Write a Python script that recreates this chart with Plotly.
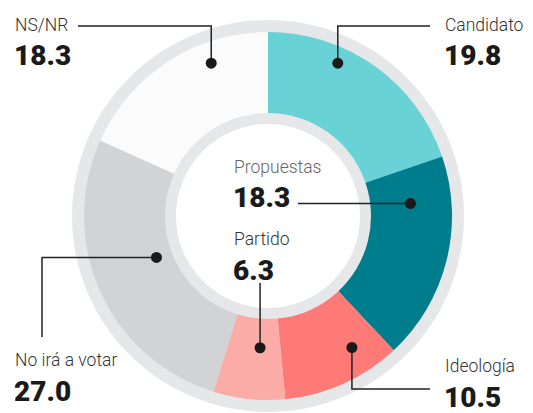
import plotly.graph_objects as go
import math

# ---- data ----
categories = ["Candidato", "Propuestas", "Ideología", "Partido", "No irá a votar", "NS/NR"]
values = [19.8, 18.3, 10.5, 6.3, 27.0, 18.3]
value_labels = ["19.8", "18.3", "10.5", "6.3", "27.0", "18.3"]

# ---- style ----
colors = ["#69d2d7", "#007d8d", "#fd7a77", "#fbaca6", "#d2d3d5", "#fbfbfb"]
W, H = 533, 413
CX, CY = 268, 216          # pie centre in pixels
R_OUT_RING = 196           # outer grey rim
R_SLICES = 184             # coloured ring outer radius
R_SLICE_IN = 103           # coloured ring inner radius
R_WHITE = 92               # white centre

def px(x):
    return x / W

def py(y):
    return 1 - y / H

def domain(r):
    return dict(x=[px(CX - r), px(CX + r)], y=[py(CY + r), py(CY - r)])

fig = go.Figure()
fig.add_trace(go.Pie(values=[1], marker=dict(colors=["#e6e7e9"], line=dict(width=0)),
                     domain=domain(R_OUT_RING), textinfo="none", hoverinfo="skip",
                     showlegend=False, sort=False))
fig.add_trace(go.Pie(labels=categories, values=values, sort=False, direction="clockwise",
                     rotation=0, hole=R_SLICE_IN / R_SLICES,
                     marker=dict(colors=colors, line=dict(width=0)),
                     domain=domain(R_SLICES), textinfo="none", hoverinfo="skip",
                     showlegend=False))
fig.add_trace(go.Pie(values=[1], marker=dict(colors=["#ffffff"], line=dict(width=0)),
                     domain=domain(R_WHITE), textinfo="none", hoverinfo="skip",
                     showlegend=False, sort=False))

# ---- callouts: dot placed inside each slice (fraction of slice, radius) ----
dot_frac = [0.345, 0.21, 0.28, 0.39, 0.54, 0.69]
dot_rad = [168, 143, 156, 132, 119, 163]
total = sum(values)
cum = 0
dots = []
for v, f, r in zip(values, dot_frac, dot_rad):
    ang = (cum + f * v) / total * 2 * math.pi
    dots.append((CX + r * math.sin(ang), CY - r * math.cos(ang)))
    cum += v

label_pos = [(443, 25, 55), (232, 167, 197), (443, 366, 397), (232, 239, 270), (13, 360, 391), (13, 25, 55)]
label_colors = ["#333333", "#666666", "#333333", "#333333", "#333333", "#333333"]

shapes = []
annotations = []
line_style = dict(color="#222222", width=1.5)

def path(points):
    d = "M " + " L ".join(f"{px(x)},{py(y)}" for x, y in points)
    return dict(type="path", xref="paper", yref="paper", path=d, line=line_style)

dx, dy = dots[0]
shapes.append(path([(430, 26), (dx, 26), (dx, dy)]))
dx, dy = dots[1]
shapes.append(path([(298, dy), (dx, dy)]))
dx, dy = dots[2]
shapes.append(path([(dx, dy), (dx, 389), (430, 389)]))
dx, dy = dots[3]
shapes.append(path([(dx, 283), (dx, dy)]))
dx, dy = dots[4]
shapes.append(path([(42, 337), (42, dy), (dx, dy)]))
dx, dy = dots[5]
shapes.append(path([(78, 26), (dx, 26), (dx, dy)]))

for dx, dy in dots:
    r = 5.5
    shapes.append(dict(type="circle", xref="paper", yref="paper",
                       x0=px(dx - r), x1=px(dx + r), y0=py(dy + r), y1=py(dy - r),
                       fillcolor="#1a1a1a", line=dict(width=0)))

for cat, val, (lx, ly, vy), lc in zip(categories, value_labels, label_pos, label_colors):
    annotations.append(dict(x=px(lx), y=py(ly), xref="paper", yref="paper", text=cat,
                            showarrow=False, xanchor="left", yanchor="middle",
                            font=dict(family="Roboto", size=17.5, color=lc, weight=300)))
    annotations.append(dict(x=px(lx - 1), y=py(vy), xref="paper", yref="paper", text=val,
                            showarrow=False, xanchor="left", yanchor="middle",
                            font=dict(family="Roboto", size=28, color="#1a1a1a", weight=900)))

fig.update_layout(width=W, height=H, margin=dict(l=0, r=0, t=0, b=0),
                  paper_bgcolor="white", plot_bgcolor="white",
                  shapes=shapes, annotations=annotations, showlegend=False)

fig.write_html("out.html", config={"displayModeBar": False, "staticPlot": True},
               post_script="document.body.style.margin='0';document.body.style.overflow='hidden';")
